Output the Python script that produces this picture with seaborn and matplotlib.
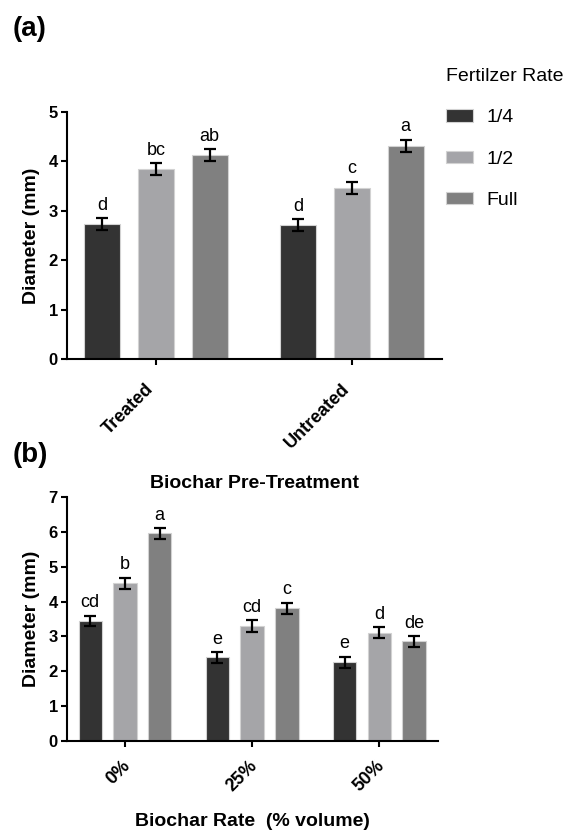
import numpy as np
import pandas as pd
import seaborn as sns
import matplotlib
matplotlib.use("Agg")
import matplotlib.pyplot as plt
from matplotlib.patches import Patch
from matplotlib.container import BarContainer
from matplotlib.transforms import ScaledTranslation

# ---------------- data ----------------
fert_levels = ["1/4", "1/2", "Full"]
fert_colors = ["#333333", "#a4a4a8", "#808080"]

# panel (a): Biochar pre-treatment
a_categories = ["Treated", "Untreated"]
a_mean_quarter = [2.73, 2.72]
a_mean_half = [3.85, 3.47]
a_mean_full = [4.13, 4.32]
a_err_quarter = [0.12, 0.12]
a_err_half = [0.12, 0.12]
a_err_full = [0.12, 0.12]
a_let_quarter = ["d", "d"]
a_let_half = ["bc", "c"]
a_let_full = ["ab", "a"]

# panel (b): Biochar rate
b_categories = ["0%", "25%", "50%"]
b_mean_quarter = [3.45, 2.40, 2.26]
b_mean_half = [4.53, 3.30, 3.11]
b_mean_full = [5.96, 3.81, 2.86]
b_err_quarter = [0.15, 0.15, 0.16]
b_err_half = [0.16, 0.16, 0.16]
b_err_full = [0.16, 0.16, 0.16]
b_let_quarter = ["cd", "e", "e"]
b_let_half = ["b", "cd", "d"]
b_let_full = ["a", "c", "de"]

a_yticks = [0, 1, 2, 3, 4, 5]
b_yticks = [0, 1, 2, 3, 4, 5, 6, 7]

# ---------------- style ----------------
sns.set_style("ticks")
plt.rcParams["font.family"] = ["Liberation Sans", "DejaVu Sans"]
plt.rcParams["text.color"] = "black"
plt.rcParams["axes.labelcolor"] = "black"
plt.rcParams["xtick.color"] = "black"
plt.rcParams["ytick.color"] = "black"

W, H = 569, 830
fig = plt.figure(figsize=(W / 100, H / 100), dpi=100)


def frac(x0, y0, x1, y1):
    return [x0 / W, 1 - y1 / H, (x1 - x0) / W, (y1 - y0) / H]


ax_a = fig.add_axes(frac(67, 112, 442, 359))
ax_b = fig.add_axes(frac(67, 497, 438, 741))


def build(cats, means, errs, lets):
    rows = []
    for lvl, m_list, e_list, l_list in zip(fert_levels, means, errs, lets):
        for c, m, e, l in zip(cats, m_list, e_list, l_list):
            rows.append({"cat": c, "fert": lvl, "mean": m, "err": e, "let": l})
    return pd.DataFrame(rows)


def draw(ax, cats, means, errs, lets, ylim, yticks, xlim, lab_shift):
    df = build(cats, means, errs, lets)
    sns.barplot(data=df, x="cat", y="mean", hue="fert", order=cats,
                hue_order=fert_levels, palette=fert_colors, width=0.82,
                gap=0.33, errorbar=None, edgecolor="#d2d2d2", linewidth=0.8,
                legend=False, ax=ax)
    bar_conts = [c for c in ax.containers if isinstance(c, BarContainer)]
    for i, cont in enumerate(bar_conts):
        sub = df[df["fert"] == fert_levels[i]].set_index("cat").loc[cats]
        for bar, (_, r) in zip(cont, sub.iterrows()):
            xc = bar.get_x() + bar.get_width() / 2
            ax.errorbar(xc, r["mean"], yerr=r["err"], color="black",
                        lw=1.6, capsize=4.6, capthick=1.6, zorder=5)
            ax.annotate(r["let"], (xc, r["mean"] + r["err"]),
                        xytext=(0, 3), textcoords="offset points",
                        ha="center", va="bottom", fontsize=13)
    ax.set_ylim(*ylim)
    ax.set_yticks(yticks)
    ax.set_xlim(*xlim)
    sns.despine(ax=ax)
    for s in ["left", "bottom"]:
        ax.spines[s].set_linewidth(1.5)
        ax.spines[s].set_color("black")
    ax.tick_params(axis="both", width=1.5, length=4.5, color="black",
                   direction="out")
    ax.tick_params(axis="y", labelsize=12, pad=2)
    ax.tick_params(axis="x", labelsize=13, pad=3)
    for t in ax.get_yticklabels():
        t.set_fontweight("bold")
    off = ScaledTranslation(lab_shift[0] / 100, lab_shift[1] / 100,
                            fig.dpi_scale_trans)
    for t in ax.get_xticklabels():
        t.set_fontweight("bold")
        t.set_rotation(45)
        t.set_ha("right")
        t.set_va("top")
        t.set_rotation_mode("anchor")
        t.set_transform(t.get_transform() + off)
    ax.set_ylabel("Diameter (mm)", fontsize=14, fontweight="bold", labelpad=6)


draw(ax_a, a_categories,
     [a_mean_quarter, a_mean_half, a_mean_full],
     [a_err_quarter, a_err_half, a_err_full],
     [a_let_quarter, a_let_half, a_let_full],
     (0, 5), a_yticks, (-0.454, 1.459), (-11, -11))
ax_a.set_xlabel("Biochar Pre-Treatment", fontsize=14, fontweight="bold",
                labelpad=17)

draw(ax_b, b_categories,
     [b_mean_quarter, b_mean_half, b_mean_full],
     [b_err_quarter, b_err_half, b_err_full],
     [b_let_quarter, b_let_half, b_let_full],
     (0, 7), b_yticks, (-0.456, 2.462), (-3, -6))
ax_b.set_xlabel("Biochar Rate  (% volume)", fontsize=14, fontweight="bold",
                labelpad=13)

# legend
handles = [Patch(facecolor=c, edgecolor="#d2d2d2", linewidth=0.8)
           for c in fert_colors]
fig.legend(handles, fert_levels, title="Fertilzer Rate", loc="upper left",
           bbox_to_anchor=(446 / W, 1 - 68 / H), frameon=False,
           fontsize=14, title_fontsize=14, alignment="left",
           handlelength=1.4, handleheight=0.6, handletextpad=0.7,
           labelspacing=1.25, borderpad=0, borderaxespad=0)

fig.text(13 / W, 1 - 36 / H, "(a)", fontsize=20, fontweight="bold",
         ha="left", va="baseline")
fig.text(13 / W, 1 - 462 / H, "(b)", fontsize=20, fontweight="bold",
         ha="left", va="baseline")

fig.savefig("out.png", dpi=100)
